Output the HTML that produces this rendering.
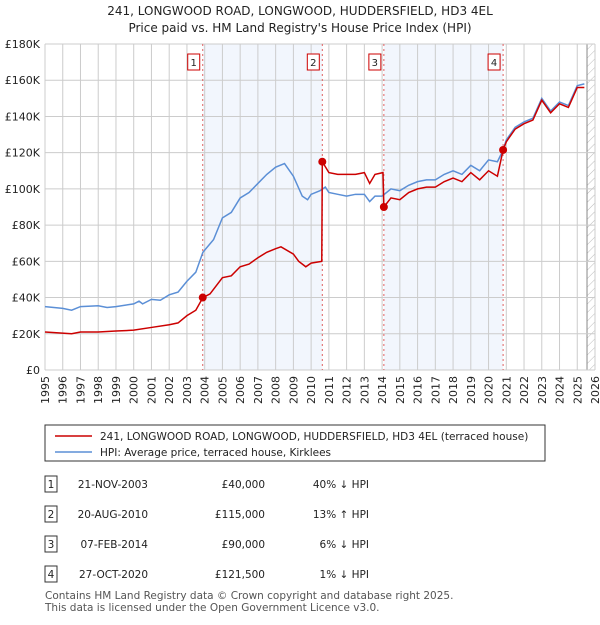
<!DOCTYPE html>
<html><head><meta charset="utf-8"><style>
body{margin:0;background:#fff;font-family:"Liberation Sans","DejaVu Sans",sans-serif;}
svg text{font-family:"DejaVu Sans","Liberation Sans",sans-serif;}
</style></head><body>
<svg id="c" width="600" height="620" xmlns="http://www.w3.org/2000/svg">
<defs><pattern id="hatch" width="6" height="6" patternUnits="userSpaceOnUse" patternTransform="rotate(45)"><line x1="0" y1="0" x2="0" y2="6" stroke="#bbb" stroke-width="1"/></pattern></defs>
<text x="300" y="15" text-anchor="middle" font-size="12" fill="#222">241, LONGWOOD ROAD, LONGWOOD, HUDDERSFIELD, HD3 4EL</text>
<text x="300" y="32" text-anchor="middle" font-size="12" fill="#222">Price paid vs. HM Land Registry's House Price Index (HPI)</text>
<g id="plot"></g>
<g>
<rect x="45" y="425" width="500" height="36" fill="#fff" stroke="#333"/>
<line x1="55" y1="436" x2="92" y2="436" stroke="#cc0000" stroke-width="1.5"/>
<text x="100" y="440" font-size="10.5" fill="#222">241, LONGWOOD ROAD, LONGWOOD, HUDDERSFIELD, HD3 4EL (terraced house)</text>
<line x1="55" y1="452" x2="92" y2="452" stroke="#5b8fd6" stroke-width="1.5"/>
<text x="100" y="456" font-size="10.5" fill="#222">HPI: Average price, terraced house, Kirklees</text>
</g>
<g id="tbl" font-size="10.5" fill="#222"></g>
<text x="45" y="599" font-size="10.5" fill="#555">Contains HM Land Registry data © Crown copyright and database right 2025.</text>
<text x="45" y="611" font-size="10.5" fill="#555">This data is licensed under the Open Government Licence v3.0.</text>
</svg>
<script>
const hpiYears=[1995,1996,1996.5,1997,1998,1998.5,1999,2000,2000.3,2000.5,2001,2001.5,2002,2002.5,2003,2003.5,2003.9,2004.5,2005,2005.5,2006,2006.5,2007,2007.5,2008,2008.5,2009,2009.5,2009.8,2010,2010.5,2010.8,2011,2011.5,2012,2012.5,2013,2013.3,2013.6,2014,2014.5,2015,2015.5,2016,2016.5,2017,2017.5,2018,2018.5,2019,2019.5,2020,2020.5,2020.8,2021,2021.5,2022,2022.5,2023,2023.5,2024,2024.5,2025,2025.4];
const hpiValues=[35,34,33,35,35.5,34.5,35,36.5,38,36.5,39,38.5,41.5,43,49,54,65,72,84,87,95,98,103,108,112,114,107,96,94,97,99,101,98,97,96,97,97,93,96,96,100,99,102,104,105,105,108,110,108,113,110,116,115,121,127,134,137,139,150,143,148,146,157,158];
const priceYears=[1995,1996.5,1997,1998,1999,2000,2001,2002,2002.5,2003,2003.5,2003.9,2004.3,2005,2005.5,2006,2006.5,2007,2007.5,2008,2008.3,2009,2009.3,2009.7,2010,2010.6,2010.63,2011,2011.5,2012,2012.5,2013,2013.3,2013.6,2014.05,2014.1,2014.5,2015,2015.5,2016,2016.5,2017,2017.5,2018,2018.5,2019,2019.5,2020,2020.5,2020.82,2021,2021.5,2022,2022.5,2023,2023.5,2024,2024.5,2025,2025.4];
const priceValues=[21,20,21,21,21.5,22,23.5,25,26,30,33,40,42,51,52,57,58.5,62,65,67,68,64,60,57,59,60,115,109,108,108,108,109,103,108,109,90,95,94,98,100,101,101,104,106,104,109,105,110,107,121.5,126,133,136,138,149,142,147,145,156,156];
const saleYears=[2003.89,2010.63,2014.1,2020.82];
const saleValues=[40,115,90,121.5];
const saleLabels=["1","2","3","4"];
const saleDates=["21-NOV-2003","20-AUG-2010","07-FEB-2014","27-OCT-2020"];
const salePrices=["£40,000","£115,000","£90,000","£121,500"];
const saleHpi=["40% ↓ HPI","13% ↑ HPI","6% ↓ HPI","1% ↓ HPI"];
const yTicks=[0,20,40,60,80,100,120,140,160,180];
const yTickLabels=["£0","£20K","£40K","£60K","£80K","£100K","£120K","£140K","£160K","£180K"];
const xTicks=[1995,1996,1997,1998,1999,2000,2001,2002,2003,2004,2005,2006,2007,2008,2009,2010,2011,2012,2013,2014,2015,2016,2017,2018,2019,2020,2021,2022,2023,2024,2025,2026];

const NS="http://www.w3.org/2000/svg";
const X0=45,X1=595,Y0=370,Y1=44;
const xs=y=>X0+(y-1995)*(X1-X0)/31;
const ys=v=>Y0-v*(Y0-Y1)/180;
const g=document.getElementById('plot');
function mk(t,a,p){const e=document.createElementNS(NS,t);for(const k in a)e.setAttribute(k,a[k]);(p||g).appendChild(e);return e;}
for(const [a,b] of [[0,1],[2,3]]){
 const r=mk('rect',{x:xs(saleYears[a]),y:Y1,width:xs(saleYears[b])-xs(saleYears[a]),height:Y0-Y1,fill:'#f2f6fd'});
 
 
}
const h=mk('rect',{x:xs(2025.55),y:Y1,width:X1-xs(2025.55),height:Y0-Y1,fill:'url(#hatch)'});


mk('line',{x1:xs(2025.55),y1:Y1,x2:xs(2025.55),y2:Y0,stroke:'#888','stroke-width':1});
yTicks.forEach((v,i)=>{
 mk('line',{x1:X0,y1:ys(v),x2:X1,y2:ys(v),stroke:'#ccc','stroke-width':1});
 const t=mk('text',{x:X0-5,y:ys(v)+4,'text-anchor':'end','font-size':11,fill:'#222'});
 t.textContent=yTickLabels[i];
 
 
});
xTicks.forEach(yr=>{
 mk('line',{x1:xs(yr),y1:Y1,x2:xs(yr),y2:Y0,stroke:'#ccc','stroke-width':1});
 const t=mk('text',{x:0,y:0,'text-anchor':'end','font-size':11,fill:'#222',transform:`translate(${xs(yr)+4},${Y0+6}) rotate(-90)`});
 t.textContent=yr;
 
 
});
saleYears.forEach((yr,i)=>{
 mk('line',{x1:xs(yr),y1:Y1,x2:xs(yr),y2:Y0,stroke:'#e06060','stroke-width':1,'stroke-dasharray':'2,3'});
 const bx=mk('rect',{x:xs(yr)-15,y:54,width:12,height:16,fill:'#fff',stroke:'#cc0000'});
 
 
 const t=mk('text',{x:xs(yr)-9,y:66,'text-anchor':'middle','font-size':10,fill:'#222'});
 t.textContent=saleLabels[i];
});
const hp=mk('polyline',{points:hpiYears.map((y,i)=>xs(y)+','+ys(hpiValues[i])).join(' '),fill:'none',stroke:'#5b8fd6','stroke-width':1.5});


const pp=mk('polyline',{points:priceYears.map((y,i)=>xs(y)+','+ys(priceValues[i])).join(' '),fill:'none',stroke:'#cc0000','stroke-width':1.5});


saleYears.forEach((yr,i)=>{
 const c=mk('circle',{cx:xs(yr),cy:ys(saleValues[i]),r:4,fill:'#cc0000'});
 
 
});
const tb=document.getElementById('tbl');
saleYears.forEach((yr,i)=>{
 const y=488+i*30;
 const r=mk('rect',{x:45,y:y-12,width:12,height:16,fill:'#fff',stroke:'#333'},tb);
 
 
 const a=mk('text',{x:51,y:y,'text-anchor':'middle'},tb);a.textContent=saleLabels[i];
 const d=mk('text',{x:148,y:y,'text-anchor':'end'},tb);d.textContent=saleDates[i];
 
 
 const p=mk('text',{x:265,y:y,'text-anchor':'end'},tb);p.textContent=salePrices[i];
 
 
 const hh=mk('text',{x:369,y:y,'text-anchor':'end'},tb);hh.textContent=saleHpi[i];
 
 
});
</script>
</body></html>
